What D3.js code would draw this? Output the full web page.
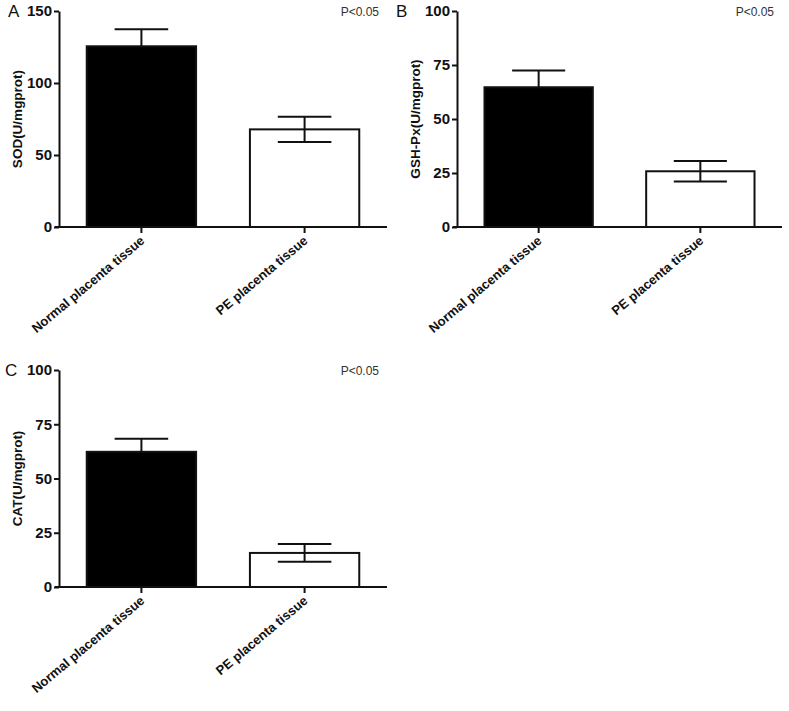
<!DOCTYPE html>
<html>
<head>
<meta charset="utf-8">
<script src="https://cdn.jsdelivr.net/npm/d3@7"></script>
<style>
  body { margin: 0; background: #fff; }
  svg { display: block; font-family: Arial, "Liberation Sans", sans-serif; }
  .tick text { font-weight: bold; }
</style>
</head>
<body>
<div id="chart"></div>
<script>
// data
var groups = ['Normal placenta tissue', 'PE placenta tissue'];
var sodMeans = [125.5, 67.8];
var sodErrs = [11.8, 8.8];
var gshMeans = [64.7, 25.8];
var gshErrs = [7.7, 4.7];
var catMeans = [62.3, 15.7];
var catErrs = [6.0, 4.1];
var sodTicks = [0, 50, 100, 150];
var pctTicks = [0, 25, 50, 75, 100];
var fills = ['#000', '#fff'];

var svg = d3.select('#chart').append('svg')
  .attr('width', 789)
  .attr('height', 711);

svg.append('rect').attr('width', 789).attr('height', 711).attr('fill', '#fff');

function drawPanel(p) {
  var g = svg.append('g');

  var x = d3.scaleBand()
    .domain(groups)
    .range([p.left, p.right])
    .paddingInner(0.33)
    .paddingOuter(0.17);

  var y = d3.scaleLinear()
    .domain([0, p.ymax])
    .range([p.bottom, p.top]);

  var rows = groups.map(function(name, i) {
    return { name: name, mean: p.means[i], err: p.errs[i], fill: fills[i] };
  });

  g.selectAll('rect.bar').data(rows).enter().append('rect')
    .attr('class', 'bar')
    .attr('x', function(d) { return x(d.name); })
    .attr('width', x.bandwidth())
    .attr('y', function(d) { return y(d.mean); })
    .attr('height', function(d) { return y(0) - y(d.mean); })
    .attr('fill', function(d) { return d.fill; })
    .attr('stroke', '#111')
    .attr('stroke-width', 2);

  // error bars: lower whisker only shows on the white bar
  var capW = x.bandwidth() * 0.49;
  var cx = function(d) { return x(d.name) + x.bandwidth() / 2; };
  var caps = g.selectAll('g.cap').data(rows).enter().append('g')
    .attr('class', 'cap')
    .attr('stroke', '#111')
    .attr('stroke-width', 2);
  caps.append('line')
    .attr('x1', cx)
    .attr('x2', cx)
    .attr('y1', function(d) { return y(d.mean + d.err); })
    .attr('y2', function(d) { return d.fill === '#000' ? y(d.mean) : y(d.mean - d.err); });
  caps.append('line')
    .attr('x1', function(d) { return cx(d) - capW / 2; })
    .attr('x2', function(d) { return cx(d) + capW / 2; })
    .attr('y1', function(d) { return y(d.mean + d.err); })
    .attr('y2', function(d) { return y(d.mean + d.err); });
  caps.filter(function(d) { return d.fill !== '#000'; }).append('line')
    .attr('x1', function(d) { return cx(d) - capW / 2; })
    .attr('x2', function(d) { return cx(d) + capW / 2; })
    .attr('y1', function(d) { return y(d.mean - d.err); })
    .attr('y2', function(d) { return y(d.mean - d.err); });

  // y axis
  var yAxis = g.append('g')
    .attr('transform', 'translate(' + p.left + ',0)')
    .call(d3.axisLeft(y).tickValues(p.ticks).tickSize(5).tickSizeOuter(0).tickPadding(2));
  yAxis.select('.domain').attr('stroke', '#111').attr('stroke-width', 2);
  yAxis.selectAll('.tick line').attr('stroke', '#111').attr('stroke-width', 2);
  yAxis.selectAll('.tick text')
    .attr('font-size', 15)
    .attr('fill', '#111');

  // x axis
  g.append('line')
    .attr('x1', p.left - 4)
    .attr('x2', p.right)
    .attr('y1', p.bottom)
    .attr('y2', p.bottom)
    .attr('stroke', '#111')
    .attr('stroke-width', 2);
  var xAxis = g.append('g')
    .attr('transform', 'translate(0,' + p.bottom + ')')
    .call(d3.axisBottom(x).tickSize(6).tickSizeOuter(0));
  xAxis.select('.domain').remove();
  xAxis.selectAll('.tick line').attr('stroke', '#111').attr('stroke-width', 2);
  xAxis.selectAll('.tick text')
    .attr('font-size', 13)
    .attr('fill', '#111')
    .attr('text-anchor', 'end')
    .attr('dy', null)
    .attr('y', 0)
    .attr('transform', 'translate(4,15) rotate(-40)');

  // y title
  g.append('text')
    .attr('transform', 'translate(' + p.titleX + ',' + (p.top + p.bottom) / 2 + ') rotate(-90)')
    .attr('text-anchor', 'middle')
    .attr('dy', '0.35em')
    .attr('font-size', 13.5)
    .attr('font-weight', 'bold')
    .attr('fill', '#111')
    .text(p.title);

  // panel letter
  g.append('text')
    .attr('x', p.letterX)
    .attr('y', p.top)
    .attr('dy', '0.36em')
    .attr('font-size', 17)
    .attr('fill', '#111')
    .text(p.letter);

  // significance note
  g.append('text')
    .attr('x', p.right - 8)
    .attr('y', p.top + 1)
    .attr('dy', '0.35em')
    .attr('text-anchor', 'end')
    .attr('font-size', 12)
    .attr('fill', '#333')
    .text('P<0.05');
}

drawPanel({ letter: 'A', letterX: 8, left: 59, right: 387, top: 11, bottom: 227,
  ymax: 150, ticks: sodTicks, means: sodMeans, errs: sodErrs,
  title: 'SOD(U/mgprot)', titleX: 17 });

drawPanel({ letter: 'B', letterX: 396, left: 457, right: 782, top: 11, bottom: 227,
  ymax: 100, ticks: pctTicks, means: gshMeans, errs: gshErrs,
  title: 'GSH-Px(U/mgprot)', titleX: 415 });

drawPanel({ letter: 'C', letterX: 5, left: 59, right: 387, top: 370, bottom: 587,
  ymax: 100, ticks: pctTicks, means: catMeans, errs: catErrs,
  title: 'CAT(U/mgprot)', titleX: 17 });
</script>
</body>
</html>
